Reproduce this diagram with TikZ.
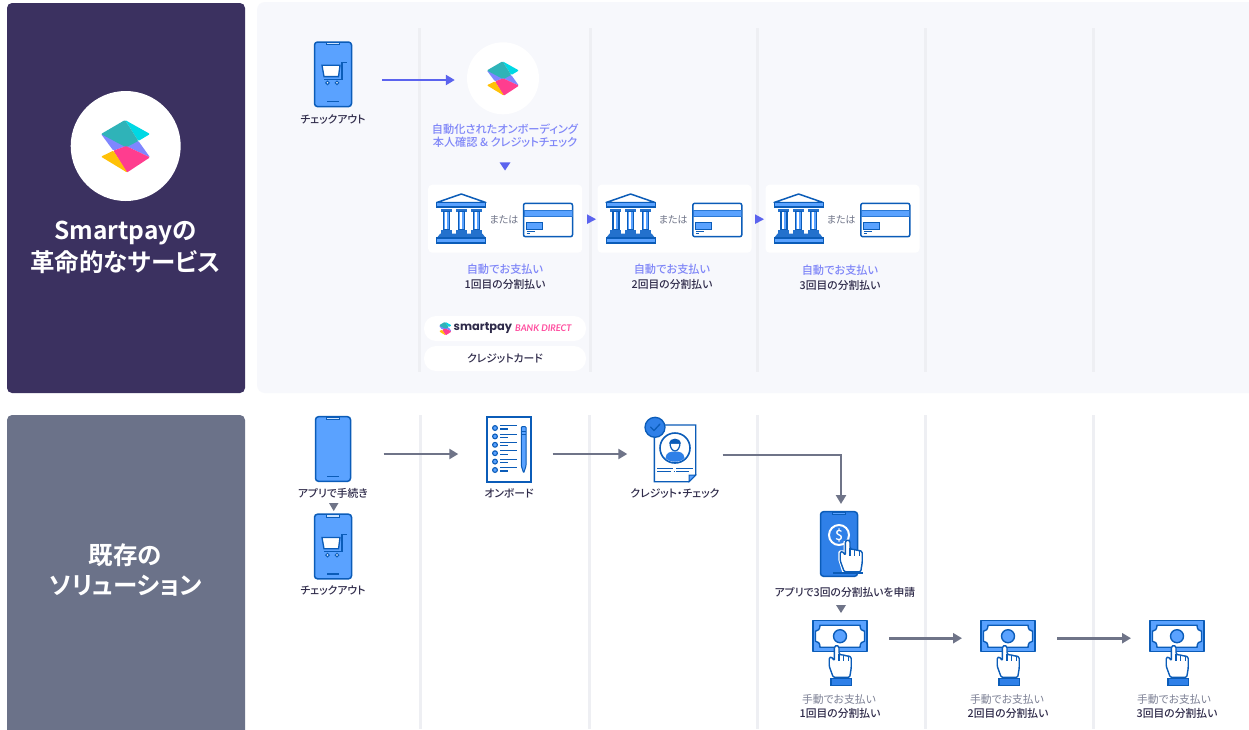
\documentclass[tikz,border=0pt]{standalone}
\usepackage{fontspec}
\setmainfont{Noto Sans CJK JP}[RawFeature=+palt,BoldFont={Noto Sans CJK JP Medium}]
\newfontfamily\titlef{Noto Sans CJK JP Bold}[RawFeature=+palt]
\newfontfamily\popp{Poppins}
\newfontfamily\latof{Lato}
\usetikzlibrary{arrows.meta}
\definecolor{navy}{HTML}{3B3160}
\definecolor{slate}{HTML}{6B7289}
\definecolor{panel}{HTML}{F7F8FC}
\definecolor{rulec}{HTML}{EEEFF3}
\definecolor{dk}{HTML}{0B5CB8}
\definecolor{lt}{HTML}{5AA2FF}
\definecolor{md}{HTML}{2F80E8}
\definecolor{viol}{HTML}{5B63EE}
\definecolor{lav}{HTML}{7F86F8}
\definecolor{ink}{HTML}{2F2B4A}
\definecolor{gr}{HTML}{6F7488}
\definecolor{grt}{HTML}{7C8094}
\definecolor{lcy}{HTML}{00D8E4}
\definecolor{ltl}{HTML}{2FB3B8}
\definecolor{lpe}{HTML}{7F86FF}
\definecolor{lpk}{HTML}{FF3D8F}
\definecolor{lye}{HTML}{FFC107}
\definecolor{pinkt}{HTML}{FF4FA0}
\tikzset{
  ghost/.style={inner sep=0pt,outer sep=0pt},
  captxt/.style={inner sep=0pt,align=center,font=\fontsize{10.8}{14}\selectfont\bfseries,text=ink},
  capg/.style={inner sep=0pt,align=center,font=\fontsize{10.8}{14}\selectfont,text=grt},
  capl/.style={inner sep=0pt,align=center,font=\fontsize{11.2}{14}\selectfont\bfseries,text=lav},
  titletxt/.style={inner sep=0pt,align=center,text=white,font=\titlef\fontsize{24.5}{30}\selectfont},
  vrule/.style={draw=rulec,line width=3pt},
  arrV/.style={draw=viol,line width=2.8pt,-{Triangle[length=9pt,width=10pt]}},
  arrG/.style={draw=gr,line width=2.8pt,-{Triangle[length=9pt,width=10pt]}},
  iconln/.style={draw=dk,line width=1.5pt,line join=round},
  logomark/.pic={
    \fill[lpe,rounded corners=1pt] (-74,-36)--(-37,14)--(1,0)--(73,34)--(38,-15)--cycle;
    \fill[lcy,rounded corners=1pt] (-2,-78)--(73,-36)--(38,-15)--cycle;
    \fill[ltl,rounded corners=1pt] (-74,-36)--(-2,-78)--(38,-15)--(1,4)--cycle;
    \fill[lpk,rounded corners=1pt] (-37,14)--(1,0)--(73,34)--(3,80)--cycle;
    \fill[lye,rounded corners=1pt] (-74,32)--(-37,14)--(5,80)--cycle;
  },
  phoneicon/.pic={
    \draw[iconln,fill=lt,rounded corners=3pt] (-18.5,-32.3) rectangle (18.5,32.3);
    \draw[dk,fill=white!70!lt,line width=1pt] (-6.5,-32)--(6.5,-32)--(6.5,-29.5)--(-6.5,-29.5)--cycle;
    \draw[dk,line width=1.2pt] (-6,27.5)--(6,27.5);
  },
  carticon/.pic={
    \draw[dk,line width=1.3pt,fill=white] (-11,-9)--(7,-9)--(5.5,2.3)--(-9,2.3)--cycle;
    \draw[dk,line width=1.3pt] (13.5,-12)--(9,-12)--(9,5)--(-9,5);
    \draw[dk,line width=1pt,fill=white] (-5.5,8.5) circle (1.8);
    \draw[dk,line width=1pt,fill=white] (4,8.5) circle (1.8);
  },
  bankicon/.pic={
    \draw[iconln,fill=white] (-24.5,-16)--(0,-24.5)--(24.5,-16)--cycle;
    \draw[dk,fill=lt,line width=1.2pt] (-24.5,-16) rectangle (24.5,-11.5);
    \foreach \cx in {-14.7,0,15}{
      \fill[dk!70!lt] (\cx-5.5,-9.5) rectangle (\cx+5.5,-7);
      \draw[dk,fill=lt,line width=1.2pt] (\cx-3,-7) rectangle (\cx+3,11);
      \fill[white] (\cx-1.6,-6.4) rectangle (\cx+.3,10.4);
      \fill[dk!70!lt] (\cx-5.5,11) rectangle (\cx+5.5,15);
    }
    \fill[dk!70!lt] (-21,15)--(21,15)--(24.5,19.5)--(-24.5,19.5)--cycle;
    \draw[dk,fill=lt,line width=1.2pt] (-24.5,19.5) rectangle (24.5,24.5);
  },
  cardicon/.pic={
    \draw[iconln,fill=white,rounded corners=2pt] (-24.5,-16.7) rectangle (24.5,16.7);
    \draw[dk!60!lt,fill=lt,line width=.5pt] (-24,-10) rectangle (24,-3.3);
    \draw[dk,fill=lt,line width=1pt] (-21.5,2.3) rectangle (-5.8,9);
    \draw[dk,line width=.8pt] (-21.5,11.3)--(-13,11.3) (-21.5,13.2)--(-18,13.2);
  },
  formicon/.pic={
    \draw[dk,fill=white,line width=2pt] (-21.7,-32.5) rectangle (21.7,32.5);
    \foreach \ry in {-21,-12.6,-4.2,4.2,12.6,21}{
      \draw[dk,fill=lt,line width=1.1pt] (-14,\ry) circle (2.4);
      \draw[dk,line width=1.1pt] (-9,\ry-2.3)--(8.3,\ry-2.3) (-9,\ry+1)--(-.7,\ry+1);
    }
    \draw[dk,fill=lt,line width=1pt,rounded corners=1pt] (12.3,-22.5)--(17,-22.5)--(17,17)--(14.7,24)--(12.3,17)--cycle;
    \draw[dk,line width=.8pt] (12.3,-18)--(17,-18) (12.3,-15)--(17,-15);
  },
  idoc/.pic={
    \draw[dk,fill=white,line width=1.4pt] (-20.7,-23)--(20.7,-23)--(20.7,27)--(14,33.7)--(-20.7,33.7)--cycle;
    \draw[dk,fill=lt,line width=1pt] (20.7,27)--(14,27)--(14,33.7)--cycle;
    \draw[dk,fill=white,line width=1.6pt] (0,0) circle (15);
    \fill[md] (-9.5,10)..controls (-9,4) and (-4,3.5)..(0,3.5)..controls (4,3.5) and (9,4)..(9.5,10)..controls (5,15) and (-5,15)..cycle;
    \draw[dk,fill=white,line width=1.2pt] (-5,-5)..controls (-5,-1) and (-3,3)..(0,3)..controls (3,3) and (5,-1)..(5,-5)--cycle;
    \fill[dk] (-5.5,-4.5)..controls (-6,-11) and (6,-11)..(5.5,-4.5)--cycle;
    \draw[dk,line width=1.1pt] (-17.7,20.3)--(-1.7,20.3) (1,20.3)--(17.7,20.3) (-17.7,23.7)--(-4,23.7) (-1.5,23.7)--(-.5,23.7) (1,23.7)--(14,23.7);
    \draw[dk,fill=md,line width=1.3pt] (-20,-20.7) circle (10);
    \draw[dk,line width=1.3pt,line cap=round] (-24.5,-21)--(-21,-17.5)--(-15,-24);
  },
  handicon/.pic={
    \draw[dk,fill=white,line width=1.4pt,line join=round,rounded corners=1.2pt]
      (-2.3,.5)--(-2.3,14.5)--(-5.5,10.5)--(-7.5,11.5)--(-7.5,20)--(-3.5,31)--(13,31)--(14.5,22)--(14.5,11)
      --(11.5,9.5)--(9.5,10)--(7,8.5)--(4.5,9)--(2.3,7.5)--(2.3,.5)--(0,-1)--cycle;
    \draw[dk,line width=1.2pt] (2.3,7.5)--(2.3,15) (7,8.5)--(7,15) (11.5,9.5)--(11.5,15);
  },
  billicon/.pic={
    \draw[iconln,fill=lt] (-27,-15.5) rectangle (27,15.5);
    \draw[dk,fill=white,line width=1.4pt] (-20,-11)--(20,-11)..controls (20,-7) and (22,-5)..(24.5,-5)--(24.5,5)..controls (22,5) and (20,7)..(20,11)--(-20,11)..controls (-20,7) and (-22,5)..(-24.5,5)--(-24.5,-5)..controls (-22,-5) and (-20,-7)..cycle;
    \draw[dk,fill=lt,line width=1.4pt] (0,0) circle (6.5);
    \pic at (-3.3,10) {handicon};
    \draw[dk,fill=md,line width=1.2pt] (-9,42.5) rectangle (11.5,49);
  },
}
\begin{document}
\begin{tikzpicture}[x=1pt,y=-1pt]
\useasboundingbox (0,0) rectangle (1249,729);
\fill[white] (0,0) rectangle (1249,729);
% panels
\fill[navy,rounded corners=5pt] (7,3) rectangle (245,393);
\begin{scope}
\clip (0,0) rectangle (1249,729);
\fill[slate,rounded corners=5pt] (7,415) rectangle (245,745);
\fill[panel,rounded corners=8pt] (257,2) rectangle (1260,393);
\end{scope}
\foreach \vx in {419,590,757,925,1093}{\draw[vrule] (\vx,28)--(\vx,372);}
\foreach \vx in {420,589,757,925,1093}{\draw[vrule] (\vx,415)--(\vx,729);}
% left panel
\node[circle,fill=white,minimum size=110pt,inner sep=0pt] (bigcircle) at (125.7,146) {};
\pic[scale=.3333] at (125.7,146) {logomark};
\node[titletxt] (t1a) at (125.5,233) {Smartpayの};
\node[titletxt] (t1b) at (125.5,262) {革命的なサービス};
\node[titletxt] (t2a) at (125.5,555) {既存の};
\node[titletxt] (t2b) at (125.5,586) {ソリューション};
% top row
\node[ghost,minimum width=38pt,minimum height=65pt] (ph1) at (333,74.3) {};
\pic at (333,74.3) {phoneicon};
\pic at (333,74.3) {carticon};
\node[captxt] (c1) at (333,119.5) {チェックアウト};
\node[circle,fill=white,minimum size=72pt,inner sep=0pt] (lg1) at (503,78.3) {};
\pic[scale=.218] at (503,78.3) {logomark};
\draw[arrV,shorten <=30pt,shorten >=12pt] ([yshift=-5.7pt]ph1.east) -- ([yshift=-1.7pt]lg1.west);
\node[capl] (a1) at (505,128.7) {自動化されたオンボーディング};
\node[capl] (a2) at (505,142.7) {本人確認 \& クレジットチェック};
\fill[viol] (499.5,162.3)--(510.5,162.3)--(505,170.5)--cycle;
% payment boxes
\node[fill=white,rounded corners=4pt,minimum width=154pt,minimum height=68pt,inner sep=0pt] (b1) at (505.2,218.7) {};
\node[fill=white,rounded corners=4pt,minimum width=154pt,minimum height=68pt,inner sep=0pt] (b2) at (674.5,218.7) {};
\node[fill=white,rounded corners=4pt,minimum width=154pt,minimum height=68pt,inner sep=0pt] (b3) at (842.5,218.7) {};
\foreach \ox/\nm in {0/1,169.3/2,337.3/3}{
  \pic at (461.3+\ox,218.5) {bankicon};
  \pic at (548+\ox,220) {cardicon};
  \node[capg,font=\fontsize{10}{12}\selectfont,text=gr] (m\nm) at (504+\ox,220) {または};
}
\fill[viol] (587,214.3)--(596,219.2)--(587,224)--cycle;
\fill[viol] (755,214.3)--(764,219.2)--(755,224)--cycle;
\node[capl] (p1a) at (505,269.5) {自動でお支払い};
\node[captxt] (p1b) at (505,284.7) {1回目の分割払い};
\node[capl] (p2a) at (672,269.5) {自動でお支払い};
\node[captxt] (p2b) at (672,284.7) {2回目の分割払い};
\node[capl] (p3a) at (840,270.5) {自動でお支払い};
\node[captxt] (p3b) at (840,285.5) {3回目の分割払い};
% pills
\node[fill=white,rounded corners=12pt,minimum width=162pt,minimum height=25pt,inner sep=0pt] (pill1) at (505,328.5) {};
\node[fill=white,rounded corners=12pt,minimum width=162pt,minimum height=25pt,inner sep=0pt] (pill2) at (505,358.5) {};
\pic[scale=.0865] at (445.3,328.5) {logomark};
\node[inner sep=0pt,anchor=west,text=ink,font=\popp\bfseries\fontsize{11.4}{14}\selectfont] (sp) at (453.5,328) {smartpay};
\node[inner sep=0pt,anchor=west,text=pinkt,font=\latof\bfseries\itshape\fontsize{9.2}{12}\selectfont] (bd) at (515,328.5) {BANK DIRECT};
\node[captxt] (cc) at (505,359) {クレジットカード};
% bottom row
\node[ghost,minimum width=35pt,minimum height=65pt] (ph2) at (333,449) {};
\pic[xscale=.946] at (333,449) {phoneicon};
\node[captxt] (c2) at (333,493.5) {アプリで手続き};
\fill[gr] (329,503)--(338.5,503)--(333.7,511)--cycle;
\pic at (333,546.5) {phoneicon};
\pic at (333,546.5) {carticon};
\node[captxt] (c3) at (333,590.5) {チェックアウト};
\node[ghost,minimum width=43.4pt,minimum height=65pt] (doc1) at (509,449) {};
\pic at (509,449) {formicon};
\node[captxt] (c4) at (509,493.5) {オンボード};
\node[ghost,minimum width=41.4pt,minimum height=56pt] (crd) at (675,454) {};
\pic at (675,448) {idoc};
\node[captxt] (c5) at (675,493.5) {クレジット・チェック};
\node[ghost,minimum width=37pt,minimum height=65pt] (mph) at (839,544) {};
\draw[iconln,fill=md,rounded corners=3pt] (820.5,511.7) rectangle (857.5,576.3);
\draw[dk,fill=lt,line width=1pt] (832.5,512.2) rectangle (845.5,514.7);
\draw[white,fill=md,line width=2pt] (839,535) circle (10);
\node[inner sep=0pt,text=white,font=\fontsize{14}{14}\selectfont\bfseries] (dollar) at (839,535) {\$};
\draw[white,line width=3.5pt,line join=round] (845.4,541)--(845.4,555)--(842.2,552)--(840.2,552)--(840.2,560)--(844,572);
\pic at (847.7,540.7) {handicon};
\draw[dk,line width=1.4pt] (833,573)--(863,573);
\node[captxt] (c6) at (845,592) {アプリで3回の分割払いを申請};
\fill[gr] (836,605)--(846,605)--(841,613)--cycle;
\node[ghost,minimum width=54pt,minimum height=31pt] (bl1) at (840,636.2) {};
\node[ghost,minimum width=54pt,minimum height=31pt] (bl2) at (1008,636.2) {};
\node[ghost,minimum width=54pt,minimum height=31pt] (bl3) at (1177,636.2) {};
\pic at (bl1) {billicon};
\pic at (bl2) {billicon};
\pic at (bl3) {billicon};
\node[capg] (h1) at (839,699) {手動でお支払い};
\node[captxt] (h1b) at (840,713.5) {1回目の分割払い};
\node[capg] (h2) at (1007,699) {手動でお支払い};
\node[captxt] (h2b) at (1008,713.5) {2回目の分割払い};
\node[capg] (h3) at (1174,699) {手動でお支払い};
\node[captxt] (h3b) at (1177,713.5) {3回目の分割払い};
% connectors
\draw[arrG,shorten <=33pt,shorten >=29pt] ([yshift=-5pt]ph2.east) -- ([yshift=-5pt]doc1.west);
\draw[arrG,shorten <=22pt,shorten >=27pt] ([yshift=-5pt]doc1.east) -- (crd.west);
\draw[arrG,shorten <=27pt,shorten >=7.5pt] ([yshift=-1pt]crd.east) -| ([xshift=2pt]mph.north);
\draw[arrG,shorten <=22pt,shorten >=19pt] ([yshift=-2pt]bl1.east) -- ([yshift=-2pt]bl2.west);
\draw[arrG,shorten <=22pt,shorten >=19pt] ([yshift=-2pt]bl2.east) -- ([yshift=-2pt]bl3.west);
\end{tikzpicture}
\end{document}
